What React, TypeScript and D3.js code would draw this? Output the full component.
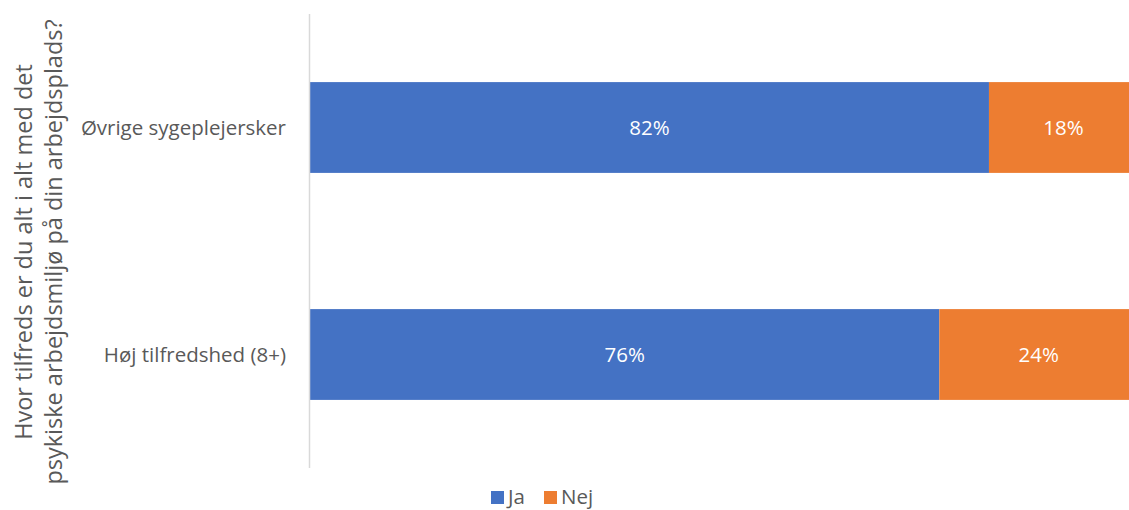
import React, { useEffect, useRef } from "react";
import * as d3 from "d3";

const categories = ["Øvrige sygeplejersker", "Høj tilfredshed (8+)"];
const seriesNames = ["Ja", "Nej"];
const jaValues = [0.82, 0.76];
const nejValues = [0.18, 0.24];
const colors = ["#4472C4", "#ED7D31"];
const axisTitle = [
  "Hvor tilfreds er du alt i alt med det",
  "psykiske arbejdsmiljø på din arbejdsplads?",
];

const W = 1129;
const H = 510;
const margin = { top: 14, right: -9, bottom: 42, left: 310 };
const FONT = "'Open Sans', sans-serif";

export default function App() {
  const ref = useRef<SVGSVGElement>(null);

  useEffect(() => {
    const svg = d3.select(ref.current);
    svg.selectAll("*").remove();

    const width = W - margin.left - margin.right;
    const height = H - margin.top - margin.bottom;

    const g = svg.append("g")
      .attr("transform", "translate(" + margin.left + "," + margin.top + ")");

    const x = d3.scaleLinear().domain([0, 1]).range([0, width]);
    const y = d3.scaleBand<string>()
      .domain(categories)
      .range([0, height])
      .paddingInner(0.6)
      .paddingOuter(0.3);

    const rows = categories.map((c, i) => ({ cat: c, Ja: jaValues[i], Nej: nejValues[i] }));
    const stack = d3.stack<any>().keys(seriesNames)(rows);

    stack.forEach((layer, si) => {
      const lg = g.append("g");
      lg.selectAll("rect")
        .data(layer)
        .join("rect")
        .attr("x", (d) => x(d[0]))
        .attr("width", (d) => x(d[1]) - x(d[0]))
        .attr("y", (d) => y(d.data.cat) as number)
        .attr("height", y.bandwidth())
        .attr("fill", colors[si]);
      lg.selectAll("text")
        .data(layer)
        .join("text")
        .attr("x", (d) => (x(d[0]) + x(d[1])) / 2)
        .attr("y", (d) => (y(d.data.cat) as number) + y.bandwidth() / 2)
        .attr("dy", "0.35em")
        .attr("text-anchor", "middle")
        .attr("fill", "#fff")
        .style("font-family", FONT)
        .style("font-size", "20.5px")
        .text((d) => Math.round((d[1] - d[0]) * 100) + "%");
    });

    // vertical axis line
    g.append("line")
      .attr("x1", -0.5).attr("x2", -0.5)
      .attr("y1", 0).attr("y2", height)
      .attr("stroke", "#D9D9D9")
      .attr("stroke-width", 1.5);

    // category labels
    g.selectAll(".cat")
      .data(categories)
      .join("text")
      .attr("class", "cat")
      .attr("x", -24)
      .attr("y", (d) => (y(d) as number) + y.bandwidth() / 2)
      .attr("dy", "0.35em")
      .attr("text-anchor", "end")
      .attr("fill", "#595959")
      .style("font-family", FONT)
      .style("font-size", "20.5px")
      .text((d) => d);

    // rotated axis title
    const t = svg.append("text")
      .attr("transform", "translate(32," + 252 + ") rotate(-90)")
      .attr("text-anchor", "middle")
      .attr("fill", "#595959")
      .style("font-family", FONT)
      .style("font-size", "23.5px");
    axisTitle.forEach((line, i) => {
      t.append("tspan")
        .attr("x", 0)
        .attr("y", i * 30)
        .text(line);
    });

    // legend
    const leg = svg.append("g").attr("transform", "translate(491,491)");
    const legX = [0, 53];
    seriesNames.forEach((s, i) => {
      leg.append("rect")
        .attr("x", legX[i]).attr("y", 0)
        .attr("width", 13).attr("height", 13)
        .attr("fill", colors[i]);
      leg.append("text")
        .attr("x", legX[i] + 17).attr("y", 13)
        .attr("fill", "#595959")
        .style("font-family", FONT)
        .style("font-size", "20.5px")
        .text(s);
    });
  }, []);

  return (
    <svg ref={ref} width={W} height={H}
      style={{ position: "absolute", left: 0, top: 0, background: "#fff" }} />
  );
}
